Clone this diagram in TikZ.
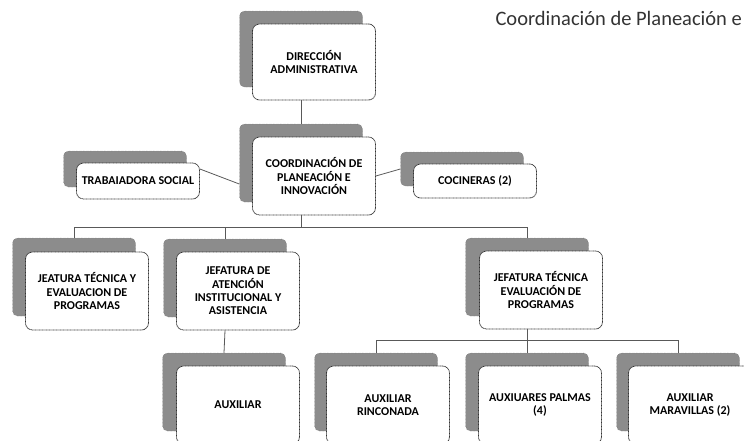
\documentclass[tikz,border=0pt]{standalone}
\usepackage{fontspec}
\setmainfont{Carlito}
\begin{document}
\begin{tikzpicture}[x=1pt, y=-1pt, every node/.style={font=\bfseries\fontsize{12}{13.3}\selectfont}]
  \tikzstyle{back}=[fill=black!45,draw=black!60,densely dotted,rounded corners=5pt,minimum width=123pt,minimum height=78pt,inner sep=0pt]
  \tikzstyle{unit}=[fill=white,draw=black!80,line width=0.8pt,dash pattern=on 0.9pt off 0.5pt,rounded corners=7pt,minimum width=123pt,minimum height=78pt,align=center,inner sep=2pt]
  \tikzstyle{link}=[black!65,line width=0.8pt]
  \useasboundingbox (0,0) rectangle (744,440);
  \clip (0,0) rectangle (744,440);
  \node[back,minimum height=76pt] (dirS) at (301,49) {};
  \node[unit,minimum height=76pt] (dir) at (314,62) {DIRECCIÓN\\ADMINISTRATIVA};
  \node[back] (coS) at (301,163) {};
  \node[unit] (co) at (314,176) {COORDINACIÓN DE\\PLANEACIÓN E\\INNOVACIÓN};
  \node[back,minimum height=36pt] (trabS) at (125,169) {};
  \node[unit,minimum height=36pt] (trab) at (138,181) {TRABAIADORA SOCIAL};
  \node[back,minimum height=34pt] (cocS) at (462,169) {};
  \node[unit,minimum height=34pt] (coc) at (475,181) {COCINERAS (2)};
  \node[back] (jeatS) at (74,277) {};
  \node[unit] (jeat) at (87,291) {JEATURA TÉCNICA Y\\EVALUACION DE\\PROGRAMAS};
  \node[back] (jatenS) at (225,278) {};
  \node[unit] (jaten) at (238,291) {JEFATURA DE\\ATENCIÓN\\INSTITUCIONAL Y\\ASISTENCIA};
  \node[back] (jtecS) at (527,277) {};
  \node[unit] (jtec) at (541,290) {JEFATURA TÉCNICA\\EVALUACIÓN DE\\PROGRAMAS};
  \node[back] (auxS) at (224,392) {};
  \node[unit] (aux) at (238,405) {AUXILIAR};
  \node[back] (rinS) at (376,392) {};
  \node[unit] (rin) at (388,405) {AUXILIAR\\RINCONADA};
  \node[back] (palS) at (527,392) {};
  \node[unit] (pal) at (540,405) {AUXIUARES PALMAS\\(4)};
  \node[back] (marS) at (678,392) {};
  \node[unit] (mar) at (690,405) {AUXILIAR\\MARAVILLAS (2)};
  \coordinate (bus1) at (301,227);
  \coordinate (bus2) at (527,340);
  \draw[link] (dirS |- dir.south) -- (coS.north);
  \draw[link] (trab.east |- trabS) -- ([yshift=-21]coS.west);
  \draw[link] (co.east) -- (cocS.west);
  \draw[link] (coS |- co.south) -- (bus1);
  \draw[link] (jeatS.north) |- (jtecS |- bus1) -- (jtecS.north);
  \draw[link] (jatenS.north) -- (jatenS |- bus1);
  \draw[link] (jatenS |- jaten.south) -- (auxS.north);
  \draw[link] (jtecS |- jtec.south) -- (palS.north);
  \draw[link] (rinS.north) |- (marS |- bus2) -- (marS.north);
  \node[anchor=base west,font=\fontsize{20.5}{24}\selectfont,text=black!80] (title) at (492,25) {Coordinación de Planeación e};
\end{tikzpicture}
\end{document}
